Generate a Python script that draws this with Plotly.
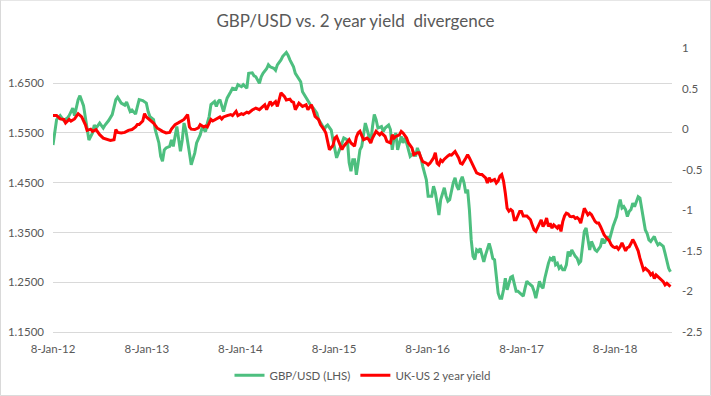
import numpy as np
import pandas as pd
import plotly.graph_objects as go

START = "2012-01-08"

gbp_weeks = [0, 2, 4, 6, 8, 9, 11, 12, 14, 15, 17, 19, 20, 22, 23, 24, 26, 28, 29, 31, 33, 35, 36, 38, 40, 41, 43, 44, 46, 47, 48, 50, 52, 53, 54, 56, 57, 59, 60, 61, 62, 63, 65, 66, 67, 69, 70, 71, 72, 73, 74, 75, 76, 77, 79, 80, 82, 83, 85, 86, 87, 88, 90, 91, 92, 93, 95, 96, 97, 99, 100, 102, 103, 105, 106, 108, 109, 111, 112, 113, 115, 116, 117, 119, 120, 121, 123, 124, 125, 127, 128, 130, 131, 132, 134, 135, 137, 138, 139, 140, 141, 143, 144, 145, 147, 148, 150, 151, 152, 153, 155, 156, 157, 158, 159, 161, 162, 164, 165, 166, 167, 168, 169, 170, 171, 172, 173, 174, 175, 176, 177, 178, 179, 180, 181, 183, 184, 185, 186, 187, 188, 189, 190, 191, 192, 194, 195, 196, 197, 198, 199, 201, 202, 203, 205, 206, 208, 209, 210, 211, 212, 213, 214, 215, 216, 218, 219, 220, 221, 222, 223, 224, 225, 226, 227, 228, 229, 230, 231, 232, 233, 234, 235, 236, 237, 238, 239, 240, 241, 242, 243, 244, 245, 246, 247, 248, 249, 250, 251, 252, 253, 254, 255, 256, 257, 258, 259, 261, 262, 263, 264, 265, 266, 267, 268, 269, 270, 271, 272, 273, 274, 275, 276, 277, 278, 279, 280, 281, 282, 283, 284, 285, 286, 287, 288, 289, 290, 291, 292, 293, 294, 295, 296, 297, 298, 299, 300, 301, 302, 303, 304, 305, 306, 307, 308, 309, 310, 311, 312, 313, 314, 315, 316, 317, 318, 319, 320, 321, 322, 323, 324, 325, 326, 327, 328, 329, 330, 331, 332, 333, 334, 335, 336, 337, 338, 339, 340, 341, 342, 343, 344]
gbp_usd = [1.526, 1.577, 1.585, 1.575, 1.58, 1.585, 1.60, 1.585, 1.617, 1.625, 1.605, 1.563, 1.536, 1.55, 1.566, 1.56, 1.57, 1.56, 1.566, 1.575, 1.587, 1.617, 1.622, 1.61, 1.606, 1.612, 1.593, 1.596, 1.588, 1.603, 1.617, 1.615, 1.61, 1.593, 1.583, 1.577, 1.556, 1.53, 1.503, 1.493, 1.516, 1.52, 1.523, 1.536, 1.523, 1.563, 1.536, 1.513, 1.536, 1.57, 1.556, 1.536, 1.51, 1.486, 1.51, 1.53, 1.546, 1.56, 1.553, 1.57, 1.583, 1.607, 1.613, 1.603, 1.613, 1.617, 1.593, 1.607, 1.62, 1.633, 1.64, 1.638, 1.647, 1.643, 1.647, 1.64, 1.67, 1.671, 1.665, 1.663, 1.65, 1.663, 1.67, 1.679, 1.687, 1.683, 1.68, 1.676, 1.687, 1.697, 1.704, 1.712, 1.706, 1.697, 1.683, 1.67, 1.657, 1.653, 1.633, 1.627, 1.62, 1.607, 1.603, 1.60, 1.59, 1.577, 1.565, 1.556, 1.563, 1.566, 1.556, 1.536, 1.516, 1.50, 1.51, 1.53, 1.54, 1.536, 1.49, 1.473, 1.496, 1.496, 1.466, 1.49, 1.516, 1.523, 1.546, 1.57, 1.557, 1.54, 1.53, 1.563, 1.587, 1.577, 1.56, 1.563, 1.553, 1.56, 1.563, 1.566, 1.557, 1.516, 1.54, 1.55, 1.516, 1.543, 1.53, 1.54, 1.53, 1.516, 1.503, 1.51, 1.503, 1.52, 1.50, 1.483, 1.456, 1.423, 1.423, 1.423, 1.443, 1.43, 1.409, 1.385, 1.416, 1.44, 1.423, 1.413, 1.416, 1.436, 1.45, 1.46, 1.443, 1.436, 1.453, 1.462, 1.45, 1.429, 1.436, 1.395, 1.335, 1.302, 1.296, 1.315, 1.312, 1.318, 1.305, 1.291, 1.305, 1.318, 1.328, 1.315, 1.298, 1.295, 1.261, 1.228, 1.218, 1.218, 1.235, 1.258, 1.235, 1.248, 1.26, 1.262, 1.248, 1.232, 1.232, 1.225, 1.222, 1.238, 1.252, 1.248, 1.245, 1.242, 1.232, 1.218, 1.235, 1.252, 1.242, 1.238, 1.258, 1.275, 1.288, 1.298, 1.295, 1.302, 1.285, 1.288, 1.278, 1.282, 1.275, 1.275, 1.285, 1.312, 1.302, 1.315, 1.308, 1.302, 1.298, 1.288, 1.292, 1.328, 1.352, 1.359, 1.335, 1.315, 1.332, 1.325, 1.315, 1.312, 1.318, 1.322, 1.338, 1.328, 1.335, 1.342, 1.335, 1.352, 1.362, 1.372, 1.382, 1.402, 1.416, 1.399, 1.402, 1.396, 1.382, 1.392, 1.396, 1.409, 1.402, 1.412, 1.422, 1.419, 1.399, 1.38, 1.355, 1.348, 1.335, 1.332, 1.338, 1.342, 1.332, 1.325, 1.328, 1.325, 1.322, 1.308, 1.295, 1.278, 1.271]

yld_weeks = [0, 2, 4, 6, 7, 9, 10, 12, 14, 16, 18, 19, 21, 22, 24, 26, 28, 30, 32, 34, 35, 36, 38, 40, 42, 44, 46, 47, 48, 50, 51, 52, 54, 56, 58, 60, 61, 63, 65, 66, 68, 70, 72, 73, 75, 76, 77, 79, 81, 82, 84, 85, 86, 88, 89, 91, 93, 94, 95, 97, 99, 100, 102, 103, 105, 106, 108, 109, 111, 113, 114, 115, 117, 118, 119, 121, 122, 124, 125, 126, 127, 129, 130, 132, 133, 134, 135, 137, 138, 139, 141, 142, 144, 145, 146, 148, 149, 151, 152, 153, 154, 156, 157, 158, 159, 161, 162, 164, 165, 166, 168, 169, 170, 171, 172, 173, 175, 176, 177, 178, 180, 181, 182, 183, 185, 186, 188, 189, 190, 191, 193, 194, 195, 197, 198, 200, 201, 203, 204, 205, 206, 208, 209, 210, 212, 213, 214, 215, 216, 217, 218, 220, 221, 222, 224, 225, 226, 227, 228, 230, 231, 232, 234, 235, 236, 238, 239, 241, 242, 243, 244, 246, 247, 248, 249, 250, 251, 252, 253, 254, 255, 256, 257, 258, 259, 260, 261, 262, 264, 265, 266, 267, 268, 269, 271, 272, 273, 274, 275, 276, 277, 278, 279, 281, 282, 283, 284, 285, 286, 287, 288, 289, 290, 291, 292, 293, 294, 295, 296, 297, 298, 299, 300, 301, 302, 303, 304, 305, 306, 307, 308, 309, 310, 311, 312, 313, 314, 315, 316, 317, 318, 319, 320, 321, 322, 323, 324, 325, 326, 327, 328, 329, 330, 331, 332, 333, 334, 335, 336, 337, 338, 339, 340, 341, 342, 343, 344]
uk_us_2y = [0.167, 0.167, 0.126, 0.12, 0.076, 0.12, 0.10, 0.126, 0.19, 0.15, 0.056, -0.015, 0.0, -0.027, -0.005, -0.068, -0.11, -0.13, -0.14, -0.13, -0.006, -0.04, -0.047, -0.04, -0.015, -0.005, 0.027, 0.056, 0.056, 0.10, 0.19, 0.15, 0.117, 0.076, 0.015, -0.015, -0.027, -0.047, -0.04, 0.0, 0.056, 0.08, 0.10, 0.12, 0.18, 0.027, 0.0, -0.005, 0.015, 0.056, 0.027, 0.04, 0.027, 0.12, 0.10, 0.12, 0.15, 0.126, 0.15, 0.167, 0.18, 0.167, 0.22, 0.167, 0.19, 0.18, 0.21, 0.20, 0.236, 0.26, 0.25, 0.24, 0.28, 0.30, 0.24, 0.34, 0.30, 0.34, 0.28, 0.385, 0.447, 0.40, 0.36, 0.37, 0.34, 0.33, 0.24, 0.32, 0.30, 0.28, 0.30, 0.24, 0.30, 0.22, 0.158, 0.117, 0.056, -0.005, -0.047, -0.15, -0.253, -0.20, -0.11, -0.09, -0.15, -0.253, -0.21, -0.15, -0.13, -0.17, -0.21, -0.10, -0.047, -0.027, -0.09, -0.13, -0.11, -0.13, -0.17, -0.11, -0.027, -0.047, -0.07, -0.047, -0.09, -0.15, -0.17, -0.07, -0.11, -0.09, -0.07, -0.027, -0.047, -0.11, -0.17, -0.23, -0.315, -0.29, -0.29, -0.355, -0.40, -0.42, -0.44, -0.42, -0.355, -0.29, -0.42, -0.44, -0.38, -0.40, -0.37, -0.33, -0.315, -0.32, -0.275, -0.315, -0.355, -0.42, -0.43, -0.355, -0.315, -0.355, -0.44, -0.50, -0.54, -0.56, -0.56, -0.60, -0.664, -0.60, -0.64, -0.62, -0.664, -0.64, -0.58, -0.56, -0.64, -0.79, -0.975, -1.01, -0.99, -1.01, -1.117, -1.117, -1.07, -1.015, -1.015, -1.07, -1.07, -1.09, -1.117, -1.18, -1.24, -1.26, -1.16, -1.117, -1.20, -1.16, -1.096, -1.20, -1.16, -1.22, -1.18, -1.22, -1.18, -1.26, -1.14, -1.07, -1.035, -1.045, -1.075, -1.08, -1.075, -1.10, -1.09, -1.11, -1.157, -1.055, -0.975, -1.015, -1.055, -1.035, -1.055, -1.097, -1.137, -1.157, -1.157, -1.20, -1.26, -1.30, -1.33, -1.36, -1.38, -1.426, -1.45, -1.46, -1.45, -1.48, -1.45, -1.40, -1.46, -1.50, -1.46, -1.45, -1.41, -1.36, -1.40, -1.46, -1.50, -1.59, -1.67, -1.735, -1.715, -1.735, -1.755, -1.797, -1.777, -1.84, -1.797, -1.817, -1.84, -1.86, -1.88, -1.92, -1.90, -1.92, -1.94]

tick_dates = ["2012-01-08", "2013-01-08", "2014-01-08", "2015-01-08", "2016-01-08", "2017-01-08", "2018-01-08"]
tick_labels = ["8-Jan-12", "8-Jan-13", "8-Jan-14", "8-Jan-15", "8-Jan-16", "8-Jan-17", "8-Jan-18"]
left_ticks = [1.15, 1.25, 1.35, 1.45, 1.55, 1.65]
right_ticks = [-2.5, -2, -1.5, -1, -0.5, 0, 0.5, 1]
right_labels = ["-2.5", "-2", "-1.5", "-1", "-0.5", "0", "0.5", "1"]

start = pd.Timestamp(START)
gbp_dates = start + pd.to_timedelta(np.array(gbp_weeks) * 7, unit="D")
yld_dates = start + pd.to_timedelta(np.array(yld_weeks) * 7, unit="D")

FONT = "Lato, 'Open Sans', sans-serif"
GREY = "#595959"

fig = go.Figure()
fig.add_trace(go.Scatter(x=gbp_dates, y=gbp_usd, mode="lines", name="GBP/USD (LHS)",
                         line=dict(color="#4DBF7F", width=3), yaxis="y"))
fig.add_trace(go.Scatter(x=yld_dates, y=uk_us_2y, mode="lines", name="UK-US 2 year yield",
                         line=dict(color="#FF0000", width=3), yaxis="y2"))

fig.update_layout(
    width=711, height=396,
    margin=dict(l=53, r=39, t=48, b=64, autoexpand=False),
    paper_bgcolor="white", plot_bgcolor="white",
    font=dict(family=FONT, size=11.5, color=GREY),
    title=dict(text="GBP/USD vs. 2 year yield  divergence", x=0.5, xanchor="center",
               y=1 - 21 / 396, yanchor="middle", font=dict(family=FONT, size=17, color=GREY)),
    xaxis=dict(type="date", range=["2012-01-08", "2018-08-18"], tickvals=tick_dates,
               ticktext=tick_labels, showgrid=False, showline=True, linecolor="#D9D9D9",
               ticks="", zeroline=False, ticklabelstandoff=6),
    yaxis=dict(range=[1.15, 1.7208], tickvals=left_ticks, tickformat=".4f",
               showgrid=True, gridcolor="#D9D9D9", gridwidth=1, zeroline=False,
               showline=False, ticks="", ticklabelstandoff=8),
    yaxis2=dict(range=[-2.5, 1.0], tickvals=right_ticks, ticktext=right_labels,
                overlaying="y", side="right", showgrid=False, zeroline=False,
                showline=False, ticks="", ticklabelstandoff=9),
    legend=dict(orientation="h", x=0.5, xanchor="center", y=-0.152, yanchor="middle",
                font=dict(family=FONT, size=11.5, color=GREY), itemwidth=30,
                bgcolor="rgba(0,0,0,0)"),
    showlegend=True,
)

# chart area border like the original
fig.add_shape(type="rect", xref="paper", yref="paper",
              x0=-52.5 / 619, x1=657.5 / 619, y0=-63.5 / 283.7, y1=331.5 / 283.7,
              line=dict(color="#D9D9D9", width=1), fillcolor="rgba(0,0,0,0)", layer="below")

fig.write_html("out.html", config={"displayModeBar": False},
               post_script="document.body.style.margin='0';")
